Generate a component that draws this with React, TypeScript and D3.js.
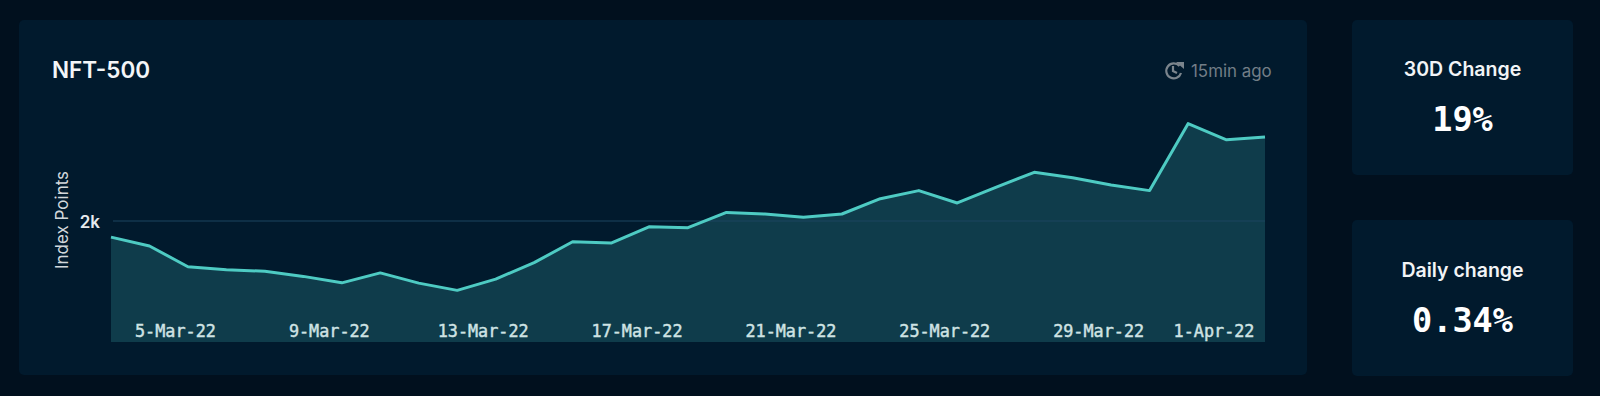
import React from "react";
import * as d3 from "d3";

const dates = ["3-Mar-22","4-Mar-22","5-Mar-22","6-Mar-22","7-Mar-22","8-Mar-22","9-Mar-22","10-Mar-22","11-Mar-22","12-Mar-22","13-Mar-22","14-Mar-22","15-Mar-22","16-Mar-22","17-Mar-22","18-Mar-22","19-Mar-22","20-Mar-22","21-Mar-22","22-Mar-22","23-Mar-22","24-Mar-22","25-Mar-22","26-Mar-22","27-Mar-22","28-Mar-22","29-Mar-22","30-Mar-22","31-Mar-22","1-Apr-22","2-Apr-22"];
const indexValues = [1940,1907,1830,1819,1813,1794,1770,1807,1769,1742,1784,1845,1923,1918,1979,1975,2032,2026,2014,2026,2083,2113,2067,2125,2181,2161,2134,2113,2362,2302,2312];
const xTickLabels = ["5-Mar-22","9-Mar-22","13-Mar-22","17-Mar-22","21-Mar-22","25-Mar-22","29-Mar-22","1-Apr-22"];
const yTicks = [2000];
const stats = [
  { title: "30D Change", value: "19%" },
  { title: "Daily change", value: "0.34%" },
];

const W = 1600, H = 396;
const sans = "Inter, 'Noto Sans', sans-serif";
const mono = "'DejaVu Sans Mono', 'Liberation Mono', monospace";

export default function App() {
  const x = d3.scalePoint<string>().domain(dates).range([111, 1265]);
  const y = d3.scaleLinear().domain([1550, 2000]).range([342, 221]);
  const rows = dates.map((d, i) => ({ d, v: indexValues[i] }));
  const line = d3.line<{ d: string; v: number }>().x((r) => x(r.d)!).y((r) => y(r.v));
  const area = d3.area<{ d: string; v: number }>().x((r) => x(r.d)!).y0(y(1550)).y1((r) => y(r.v));
  return (
    <svg width={W} height={H} viewBox={`0 0 ${W} ${H}`} style={{ position: "fixed", left: 0, top: 0, display: "block" }}>
      <rect width={W} height={H} fill="#01101e" />
      <rect x={19} y={20} width={1288} height={355} rx={5} fill="#011a2d" />
      <rect x={1352} y={20} width={221} height={155} rx={5} fill="#011a2d" />
      <rect x={1352} y={220} width={221} height={156} rx={5} fill="#011a2d" />

      <text x={52} y={78} fill="#f4f6f8" fontFamily={sans} fontSize={22.5} fontWeight={600}>NFT-500</text>

      <g fill="none" stroke="#7b858d" strokeWidth={2.2}>
        <path d="M 1179.5 66 A 7.5 7.5 0 1 0 1181 73" />
        <path d="M 1173 66 L 1173 71 L 1177 73" />
      </g>
      <path d="M 1176 62 L 1184 62 L 1184 69 Z" fill="#7b858d" />
      <text x={1191} y={77} fill="#737e87" fontFamily={sans} fontSize={16.9}>15min ago</text>

      <path d={area(rows)!} fill="#0f3c4b" />
      {yTicks.map((t) => (
        <g key={t}>
          <line x1={113} x2={1265} y1={y(t)} y2={y(t)} stroke="#1c4460" strokeWidth={1} />
          <text x={100} y={y(t) + 6.5} textAnchor="end" fill="#e6eaed" fontFamily={sans} fontSize={17} fontWeight={600}>{d3.format("~s")(t)}</text>
        </g>
      ))}
      <path d={line(rows)!} fill="none" stroke="#4ecbc3" strokeWidth={3} strokeLinejoin="round" />
      {xTickLabels.map((t) => (
        <text key={t} x={x(t)! - 12.5} y={337} textAnchor="middle" fill="#cfe3e4" stroke="#cfe3e4" strokeWidth={0.45} fontFamily={mono} fontSize={16.8}>{t}</text>
      ))}
      <text transform="translate(68,220) rotate(-90)" textAnchor="middle" fill="#d2d8dc" fontFamily={sans} fontSize={17}>Index Points</text>

      {stats.map((s, i) => {
        const oy = i * 200.5;
        return (
          <g key={s.title}>
            <text x={1462.5} y={76 + oy} textAnchor="middle" fill="#f2f4f6" fontFamily={sans} fontSize={19.5} fontWeight={600}>{s.title}</text>
            <text x={1462.5} y={131 + oy} textAnchor="middle" fill="#ffffff" fontFamily={mono} fontSize={33.5} fontWeight={700}>{s.value}</text>
          </g>
        );
      })}
    </svg>
  );
}
